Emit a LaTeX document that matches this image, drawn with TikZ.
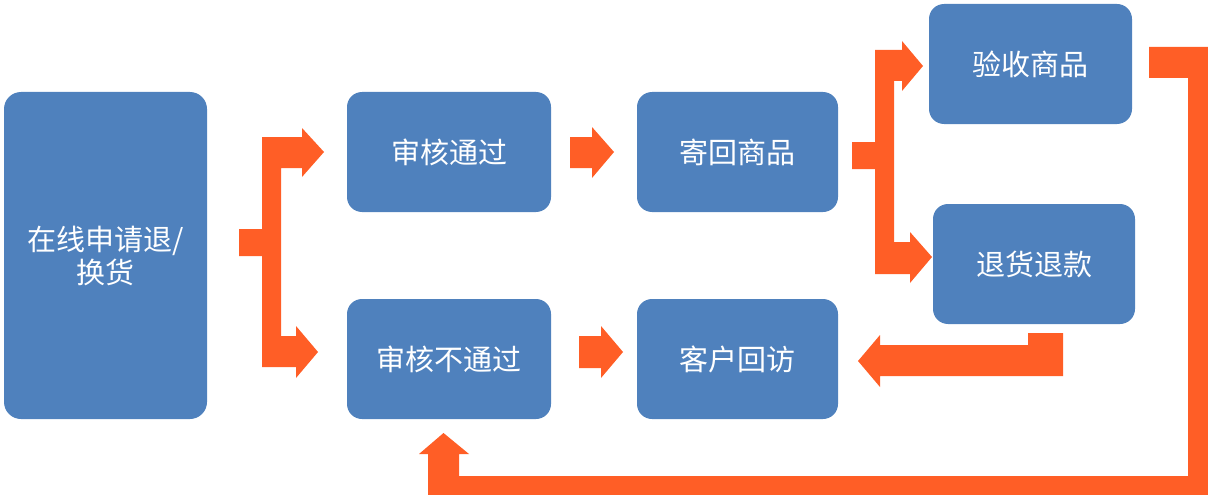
\documentclass[tikz,border=0pt]{standalone}
\usepackage{fontspec}
\newfontfamily\cjk{Noto Sans CJK SC}
\definecolor{boxblue}{HTML}{4F81BD}
\definecolor{arrorange}{HTML}{FF5E26}
\begin{document}
\begin{tikzpicture}[x=1pt,y=-1pt,
  blk/.style={fill=boxblue, rounded corners=15pt, inner sep=0pt, text=white,
    font=\cjk\fontsize{29}{33}\selectfont, align=center},
  arrw/.style={fill=arrorange, draw=none}]
\useasboundingbox (0,0) rectangle (1208,495);
\clip (0,0) rectangle (1208,495);
% boxes
\node[blk, minimum width=203pt, minimum height=327pt, rounded corners=17pt] (A) at (105.5,255.5) {在线申请退/\\换货};
\node[blk, minimum width=204pt, minimum height=120pt] (B) at (449,152) {审核通过};
\node[blk, minimum width=204pt, minimum height=120pt] (C) at (449,359) {审核不通过};
\node[blk, minimum width=201pt, minimum height=120pt] (D) at (737.5,152) {寄回商品};
\node[blk, minimum width=201pt, minimum height=120pt] (E) at (737.5,359) {客户回访};
\node[blk, minimum width=203pt, minimum height=120pt] (F) at (1030.5,64) {验收商品};
\node[blk, minimum width=202pt, minimum height=120pt] (G) at (1034,264) {退货退款};
% fork A -> B, C
\fill[arrw] (239,229) -- (262,229) -- (262,137) -- (302,137) -- (302,128) -- (324,152)
  -- (302,177) -- (302,168) -- (281,168) -- (281,336) -- (296,336) -- (296,326)
  -- (318,352) -- (296,378) -- (296,367) -- (262,367) -- (262,256) -- (239,256) -- cycle;
% B -> D
\fill[arrw] (570,137) -- (592,137) -- (592,127) -- (614,152) -- (592,178) -- (592,168) -- (570,168) -- cycle;
% C -> E
\fill[arrw] (579,336) -- (601,336) -- (601,326) -- (623,352) -- (601,378) -- (601,368) -- (579,368) -- cycle;
% fork D -> F, G
\fill[arrw] (852,142) -- (875,142) -- (875,50) -- (902,50) -- (902,41) -- (923,66)
  -- (902,91) -- (902,81) -- (894,81) -- (894,242) -- (910,242) -- (910,232)
  -- (932,257) -- (910,283) -- (910,274) -- (875,274) -- (875,169) -- (852,169) -- cycle;
% G -> E
\fill[arrw] (1063,333) -- (1063,376) -- (880,376) -- (880,387) -- (858,361) -- (880,335)
  -- (880,345) -- (1028,345) -- (1028,333) -- cycle;
% F -> C loop
\fill[arrw] (1149,47) -- (1219,47) -- (1219,507) -- (428,507) -- (428,454) -- (419,454)
  -- (443.5,433) -- (469,454) -- (459,454) -- (459,476) -- (1188,476) -- (1188,78)
  -- (1149,78) -- cycle;
\end{tikzpicture}
\end{document}
